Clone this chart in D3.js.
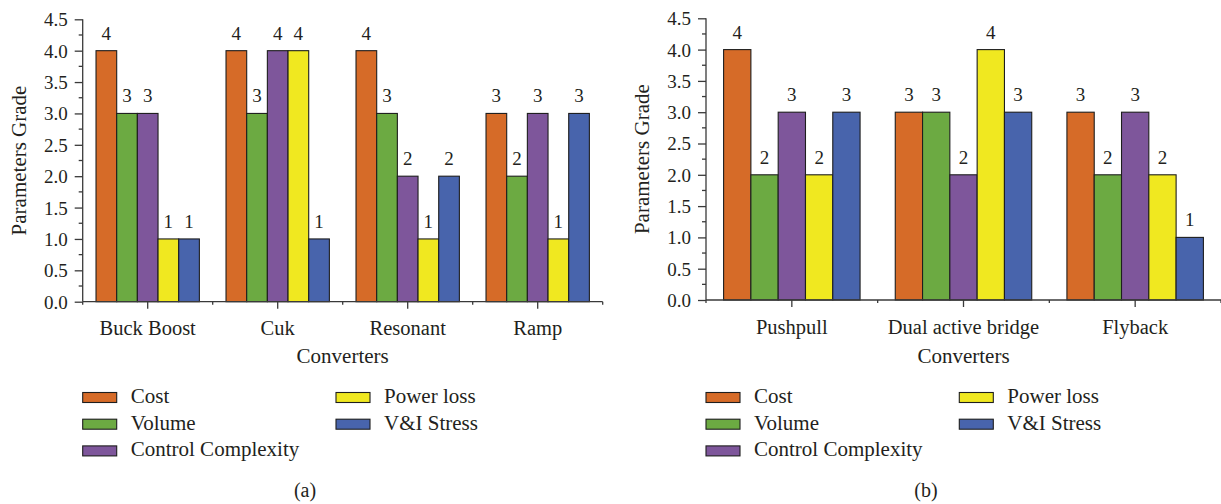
<!DOCTYPE html>
<html>
<head>
<meta charset="utf-8">
<script src="https://cdn.jsdelivr.net/npm/d3@7"></script>
<style>
	body { margin: 0; background: #fff; }
	svg { display: block; }
	text { font-family: "Liberation Serif", "Times New Roman", serif; fill: #231f20; }
	.axis path, .axis line { stroke: #3a3a3a; stroke-width: 1.3; }
</style>
</head>
<body>
<svg id="chart" width="1221" height="504"></svg>
<script>
// series shown in both panels
var seriesNames = ["Cost", "Volume", "Control Complexity", "Power loss", "V&I Stress"];
var seriesColors = ["#d66b28", "#6caa42", "#7e569b", "#f0e820", "#4864ac"];

// panel (a)
var convertersA = ["Buck Boost", "Cuk", "Resonant", "Ramp"];
var costA = [4, 4, 4, 3];
var volumeA = [3, 3, 3, 2];
var complexityA = [3, 4, 2, 3];
var powerLossA = [1, 4, 1, 1];
var stressA = [1, 1, 2, 3];

// panel (b)
var convertersB = ["Pushpull", "Dual active bridge", "Flyback"];
var costB = [4, 3, 3];
var volumeB = [2, 3, 2];
var complexityB = [3, 2, 3];
var powerLossB = [2, 4, 2];
var stressB = [3, 3, 1];

var yTickValues = [0, 0.5, 1, 1.5, 2, 2.5, 3, 3.5, 4, 4.5];
var yMinorValues = [0.25, 0.75, 1.25, 1.75, 2.25, 2.75, 3.25, 3.75, 4.25];

var svg = d3.select("#chart");

var drawPanel = function(opts) {
	var g = svg.append("g");
	var categories = opts.categories;
	var values = opts.values;

	var x0 = d3.scaleBand()
		.domain(categories)
		.range([opts.left, opts.right])
		.paddingInner(0.205)
		.paddingOuter(0.1025);

	var x1 = d3.scaleBand()
		.domain(seriesNames)
		.range([0, x0.bandwidth()]);

	var y = d3.scaleLinear()
		.domain([0, 4.5])
		.range([opts.bottom, opts.top]);

	var step = x0.step();

	// bars, one group per converter
	var groups = g.selectAll("g.group")
		.data(categories)
		.enter().append("g")
		.attr("class", "group")
		.attr("transform", function(d) { return "translate(" + x0(d) + ",0)"; });

	var bars = groups.selectAll("rect")
		.data(function(d, ci) {
			return seriesNames.map(function(s, si) { return { series: s, index: si, value: values[si][ci] }; });
		})
		.enter();

	bars.append("rect")
		.attr("x", function(d) { return x1(d.series); })
		.attr("y", function(d) { return y(d.value); })
		.attr("width", x1.bandwidth())
		.attr("height", function(d) { return y(0) - y(d.value); })
		.attr("fill", function(d) { return seriesColors[d.index]; })
		.attr("stroke", "#1e1e1e")
		.attr("stroke-width", 1.1);

	bars.append("text")
		.attr("x", function(d) { return x1(d.series) + x1.bandwidth() / 2; })
		.attr("y", function(d) { return y(d.value) - 11; })
		.attr("text-anchor", "middle")
		.style("font-size", "19px")
		.text(function(d) { return d.value; });

	// y axis with minor ticks
	var yAxis = g.append("g").attr("class", "axis")
		.attr("transform", "translate(" + opts.left + ",0)")
		.call(d3.axisLeft(y).tickValues(yTickValues).tickSize(8).tickPadding(7).tickSizeOuter(0)
			.tickFormat(d3.format(".1f")));
	yAxis.selectAll("text").style("font-size", "19px").attr("dy", "0.34em");
	yAxis.select(".domain").attr("d", "M0," + y(0) + "V" + y(4.5));
	yAxis.selectAll(".minor")
		.data(yMinorValues)
		.enter().append("line")
		.attr("class", "minor")
		.attr("x1", -4).attr("x2", 0)
		.attr("y1", function(d) { return y(d); })
		.attr("y2", function(d) { return y(d); });

	// x axis: long ticks at category centres, short ones at the boundaries
	var xAxis = g.append("g").attr("class", "axis")
		.attr("transform", "translate(0," + opts.bottom + ")")
		.call(d3.axisBottom(x0).tickSize(7).tickPadding(12).tickSizeOuter(0));
	xAxis.selectAll("text").style("font-size", "20.5px");
	xAxis.select(".domain").attr("d", "M" + opts.left + ",0H" + opts.right);
	xAxis.selectAll(".boundary")
		.data(d3.range(categories.length + 1))
		.enter().append("line")
		.attr("class", "boundary")
		.attr("x1", function(i) { return opts.left + i * step; })
		.attr("x2", function(i) { return opts.left + i * step; })
		.attr("y1", 0).attr("y2", 3);

	// axis titles
	g.append("text")
		.attr("x", (opts.left + opts.right) / 2)
		.attr("y", 363)
		.attr("text-anchor", "middle")
		.style("font-size", "21px")
		.text("Converters");

	g.append("text")
		.attr("transform", "translate(" + (opts.left - 57) + "," + ((opts.top + opts.bottom) / 2) + ") rotate(-90)")
		.attr("text-anchor", "middle")
		.style("font-size", "21px")
		.text("Parameters Grade");

	// legend, two columns
	var legend = g.selectAll("g.legend")
		.data(seriesNames)
		.enter().append("g")
		.attr("class", "legend")
		.attr("transform", function(d, i) {
			var col = i < 3 ? 0 : 1;
			var row = i < 3 ? i : i - 3;
			return "translate(" + (opts.legendX + col * opts.legendCol) + "," + (403 + row * 26.7) + ")";
		});
	legend.append("rect")
		.attr("x", 0).attr("y", -10.5)
		.attr("width", 34).attr("height", 10)
		.attr("fill", function(d, i) { return seriesColors[i]; })
		.attr("stroke", "#1e1e1e")
		.attr("stroke-width", 1.1);
	legend.append("text")
		.attr("x", 48)
		.attr("y", 0)
		.style("font-size", "21px")
		.text(function(d) { return d; });

	g.append("text")
		.attr("x", opts.captionX)
		.attr("y", 497)
		.attr("text-anchor", "middle")
		.style("font-size", "20px")
		.text(opts.caption);
};

drawPanel({
	categories: convertersA,
	values: [costA, volumeA, complexityA, powerLossA, stressA],
	left: 82.7, right: 602.7, top: 19.3, bottom: 301.7,
	legendX: 82.7, legendCol: 253.3,
	captionX: 305, caption: "(a)"
});

drawPanel({
	categories: convertersB,
	values: [costB, volumeB, complexityB, powerLossB, stressB],
	left: 706, right: 1221, top: 18.3, bottom: 300,
	legendX: 706, legendCol: 253.3,
	captionX: 926, caption: "(b)"
});
</script>
</body>
</html>
